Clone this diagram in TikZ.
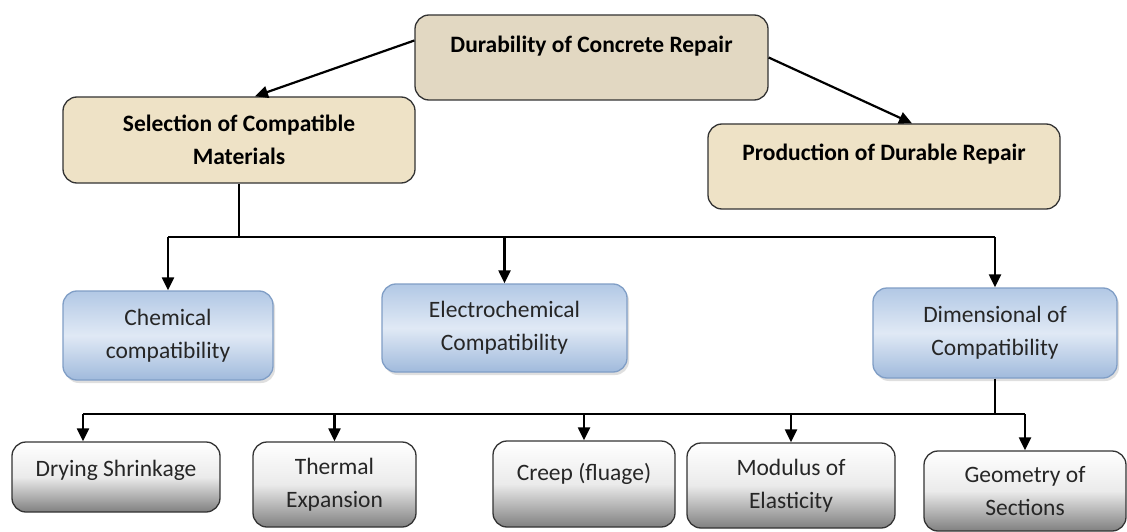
\documentclass[tikz,border=0pt]{standalone}
\usepackage{fontspec}
\setmainfont{Carlito}
\usepackage{xcolor}
\usetikzlibrary{arrows.meta,shadows}
\definecolor{paper}{RGB}{226,216,194}
\definecolor{sand}{RGB}{238,226,198}
\definecolor{bluetop}{RGB}{178,200,229}
\definecolor{bluemid}{RGB}{224,233,245}
\definecolor{bluebot}{RGB}{160,186,220}
\definecolor{blueline}{RGB}{128,158,198}
\definecolor{greybot}{RGB}{128,128,128}

\begin{document}
\begin{tikzpicture}[
  x=1pt,y=-1pt,
  font=\fontsize{23.5}{33}\selectfont,
  box/.style={rounded corners=14pt,align=center,inner sep=2pt,line width=1.3pt},
  head/.style={box,draw=black!80,fill=sand,font=\fontsize{23.5}{33}\selectfont\bfseries},
  comp/.style={box,draw=blueline,top color=bluetop,bottom color=bluebot,middle color=bluemid,
    text=black!85,drop shadow={shadow xshift=2pt,shadow yshift=-3pt,opacity=0.25}},
  prop/.style={box,draw=black!80,top color=white,bottom color=greybot,middle color=white!92!black,text=black!85},
  arr/.style={-{Triangle[length=13pt,width=12pt]},line width=2.2pt},
  trunk/.style={line width=1.2pt}
]
\path[fill=white,use as bounding box] (0,0) rectangle (1127,532);

\node[head,fill=paper,minimum width=353pt,minimum height=85pt,text depth=26pt] (dur) at (591.5,57.5) {Durability of Concrete Repair};
\node[head,minimum width=352pt,minimum height=86pt] (sel) at (239,140) {Selection of Compatible\\Materials};
\node[head,minimum width=352pt,minimum height=85pt,text depth=28pt] (prod) at (884,166.5) {Production of Durable Repair};

\node[comp,minimum width=210pt,minimum height=89pt] (chem) at (168,335.5) {Chemical\\compatibility};
\node[comp,minimum width=245pt,minimum height=88pt] (elec) at (504.5,328) {Electrochemical\\Compatibility};
\node[comp,minimum width=244pt,minimum height=90pt] (dim) at (995,333) {Dimensional of\\Compatibility};

\node[prop,minimum width=208pt,minimum height=70pt,text depth=17pt] (dry) at (116,477) {Drying Shrinkage};
\node[prop,minimum width=163pt,minimum height=85pt] (therm) at (334.5,484.5) {Thermal\\Expansion};
\node[prop,minimum width=182pt,minimum height=86pt,text depth=25pt] (creep) at (584,484) {Creep (fluage)};
\node[prop,minimum width=208pt,minimum height=85pt] (mod) at (791,485.5) {Modulus of\\Elasticity};
\node[prop,minimum width=202pt,minimum height=80pt] (geo) at (1025,491) {Geometry of\\Sections};

% top level
\draw[arr] ([yshift=17pt]dur.west) -- ([xshift=16pt]sel.north);
\draw[arr] (dur.east) -- ([xshift=28pt]prod.north);

% compatibility branches
\coordinate (j1) at (239,237);
\draw[trunk] (sel.south) -- (j1);
\draw[trunk] (chem.north |- j1) -- (dim.north |- j1);
\foreach \n in {chem,elec,dim}
  \draw[arr] (\n.north |- j1) -- (\n.north);

% dimensional properties
\coordinate (j2) at (995,414);
\draw[trunk] (dim.south) -- (j2);
\draw[trunk] ([xshift=-33pt]dry.north |- j2) -- (geo.north |- j2);
\draw[arr] ([xshift=-33pt]dry.north |- j2) -- ([xshift=-33pt]dry.north);
\foreach \n in {therm,creep,mod,geo}
  \draw[arr] (\n.north |- j2) -- (\n.north);
\end{tikzpicture}
\end{document}
